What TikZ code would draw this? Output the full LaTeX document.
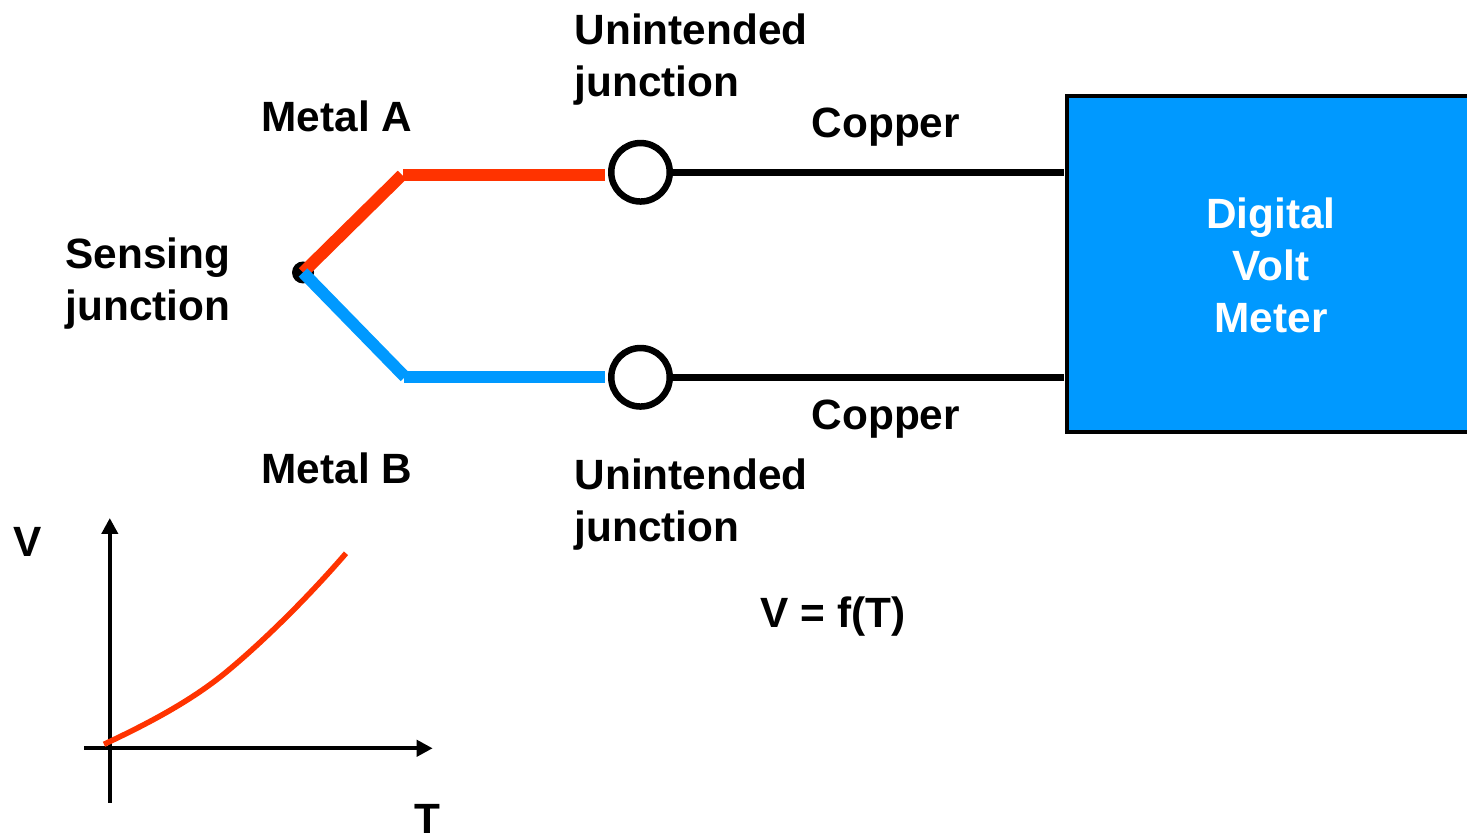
\documentclass[tikz,border=0pt]{standalone}
\usepackage{fontspec}
\setmainfont{Liberation Sans}
\usepackage{tikz}
\usetikzlibrary{arrows.meta}
\definecolor{metalred}{RGB}{255,51,0}
\definecolor{metalblue}{RGB}{0,153,255}
\tikzset{lbl/.style={font=\fontsize{12.05}{14.8}\selectfont\bfseries, align=center, inner sep=0pt},
  lbll/.style={lbl, align=left},
  axlbl/.style={font=\fontsize{12.05}{14.8}\selectfont\bfseries, inner sep=0pt},
  joint/.style={circle, draw=black, line width=.065cm, fill=white, minimum size=.585cm, inner sep=0pt},
  wire/.style={line width=.12cm},
  axis/.style={line width=.04cm, -{Triangle[length=.16cm,width=.16cm]}}}
\begin{document}
\begin{tikzpicture}
\useasboundingbox (0,0) rectangle (14.67,8.35);
\node[circle, fill=black, minimum size=.22cm, inner sep=0pt] (sense) at (3.03,5.625) {};
\coordinate (redbend) at (4.02,6.6);
\coordinate (redend) at (6.05,6.597);
\coordinate (redflat) at (4.03,6.597);
\coordinate (bluebend) at (4.05,4.58);
\coordinate (blueflat) at (4.04,4.577);
\coordinate (blueend) at (6.05,4.577);
\node[joint] (jtop) at (6.405,6.627) {};
\node[joint] (jbot) at (6.405,4.577) {};
\node[draw=black, fill=metalblue, line width=.04cm, minimum width=4.2cm, minimum height=3.36cm, anchor=north west, inner sep=0pt] (dvm) at (10.645,7.41) {};
\node[lbl, text=white] (dvmtext) at (12.71,5.7) {Digital\\Volt\\Meter};
\draw[wire, metalred] (sense.center) -- (redbend);
\draw[wire, metalred] (redflat) -- (redend);
\draw[wire, metalblue] (sense.center) -- (bluebend);
\draw[wire, metalblue] (blueflat) -- (blueend);
\draw[line width=.07cm] (jtop) -- (10.635,6.627);
\draw[line width=.07cm] (jbot) -- (10.635,4.577);
\node[lbll, anchor=west] (sensing) at (.65,5.51) {Sensing\\junction};
\node[lbl, anchor=west] (metala) at (2.61,7.19) {Metal A};
\node[lbl, anchor=west] (metalb) at (2.61,3.67) {Metal B};
\node[lbll, anchor=west] (untop) at (5.74,7.75) {Unintended\\junction};
\node[lbll, anchor=west] (unbot) at (5.74,3.3) {Unintended\\junction};
\node[lbl, anchor=west] (cutop) at (8.11,7.08) {Copper};
\node[lbl, anchor=west] (cubot) at (8.11,4.16) {Copper};
\node[lbl, anchor=west] (vf) at (7.6,2.18) {V = f(T)};
\node[axlbl] (vaxis) at (.28,2.93) {V};
\node[axlbl] (taxis) at (4.27,.16) {T};
\coordinate (yb) at (1.098,.323);
\coordinate (yt) at (1.098,3.17);
\coordinate (xl) at (.84,.867);
\coordinate (xr) at (4.327,.867);
\draw[axis] (yb) -- (yt);
\draw[axis] (xl) -- (xr);
\draw[line width=.055cm, metalred] (1.04,.907) .. controls (1.45,1.1) and (1.9,1.33) .. (2.267,1.633) .. controls (2.65,1.95) and (3.1,2.4) .. (3.46,2.817);
\end{tikzpicture}
\end{document}
